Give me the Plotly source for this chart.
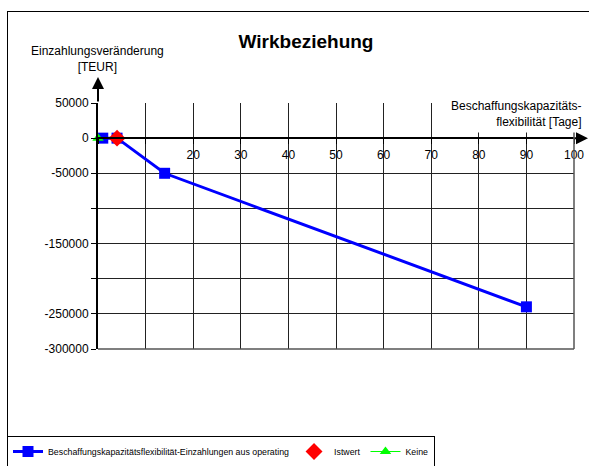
import plotly.graph_objects as go

# Data
series_name = "Beschaffungskapazitätsflexibilität-Einzahlungen aus operating"
flex_days = [1, 4, 14, 90]
einzahlung = [0, 0, -50000, -240000]
istwert_x = [4]
istwert_y = [0]
keine_x = [0]
keine_y = [0]

x_tickvals = [0, 10, 20, 30, 40, 50, 60, 70, 80, 90, 100]
x_ticktext = ["", "", "20", "30", "40", "50", "60", "70", "80", "90", "100"]
y_tickvals = [50000, 0, -50000, -100000, -150000, -200000, -250000, -300000]
y_ticktext = ["50000", "0", "-50000", "", "-150000", "", "-250000", "-300000"]

FONT = "Liberation Sans, Arial, sans-serif"

fig = go.Figure()
fig.add_trace(go.Scatter(
    x=flex_days, y=einzahlung, mode="lines+markers", name=series_name,
    line=dict(color="#0000ff", width=3),
    marker=dict(symbol="square", size=11, color="#0000ff"),
    cliponaxis=False))
fig.add_trace(go.Scatter(
    x=istwert_x, y=istwert_y, mode="markers", name="Istwert",
    marker=dict(symbol="diamond", size=13, color="#ff0000"),
    cliponaxis=False))
fig.add_trace(go.Scatter(
    x=keine_x, y=keine_y, mode="lines+markers", name="Keine",
    line=dict(color="#00ff00", width=1),
    marker=dict(symbol="triangle-up", size=10, color="#00ff00"),
    cliponaxis=False))

# Page body margin is removed (post_script), so figure px == page px.
# Plot area (px): 98..574 x 103..349
W, H = 589, 466
x0px, x1px, y0px, y1px = 98, 574, 103, 349
def px_x(p):
    return (p - x0px) / (x1px - x0px)
def px_y(p):
    return (y1px - p) / (y1px - y0px)

y_lo, y_hi = -300000, 50000
x_lo, x_hi = 0, 100
zero_pos = (0 - y_lo) / (y_hi - y_lo)

fig.update_layout(
    width=W, height=H,
    margin=dict(l=x0px, r=W - x1px, t=y0px, b=H - y1px, autoexpand=False),
    paper_bgcolor="white", plot_bgcolor="white",
    font=dict(family=FONT, size=12, color="black"),
    title=dict(text="<b>Wirkbeziehung</b>", x=306 / W, xanchor="center",
               y=1 - 41 / H, yanchor="middle", font=dict(size=19, family=FONT)),
    showlegend=True,
    legend=dict(orientation="h", x=px_x(7), y=px_y(436), xanchor="left", yanchor="top",
                bordercolor="black", borderwidth=1, bgcolor="white",
                font=dict(size=8.8, family=FONT), itemwidth=30),
    xaxis=dict(range=[x_lo, x_hi], tickvals=x_tickvals, ticktext=x_ticktext,
               showgrid=True, gridcolor="#222", gridwidth=1,
               showline=True, linecolor="black", linewidth=2,
               anchor="free", position=zero_pos,
               ticks="outside", ticklen=5, tickcolor="black",
               zeroline=False, tickfont=dict(size=12)),
    yaxis=dict(range=[y_lo, y_hi], tickvals=y_tickvals, ticktext=y_ticktext,
               showgrid=True, gridcolor="#222", gridwidth=1,
               showline=True, linecolor="black", linewidth=2,
               ticks="outside", ticklen=5, tickcolor="black",
               zeroline=False, tickfont=dict(size=12)),
)

# plot-area frame on right and bottom (grid edges)
fig.add_shape(type="line", xref="paper", yref="paper", x0=1, x1=1, y0=0, y1=1,
              line=dict(color="#555", width=1.5), layer="above")
fig.add_shape(type="line", xref="paper", yref="paper", x0=0, x1=1, y0=0, y1=0,
              line=dict(color="#555", width=1.5), layer="above")

# outer chart border (left and top)
fig.add_shape(type="line", xref="paper", yref="paper",
              x0=px_x(7.5), x1=px_x(7.5), y0=px_y(470), y1=px_y(11),
              line=dict(color="black", width=1))
fig.add_shape(type="line", xref="paper", yref="paper",
              x0=px_x(7), x1=px_x(600), y0=px_y(11.5), y1=px_y(11.5),
              line=dict(color="black", width=1))

# axis titles
fig.add_annotation(text="Einzahlungsveränderung<br>[TEUR]", xref="paper", yref="paper",
                   x=px_x(97), y=px_y(59), xanchor="center", yanchor="middle",
                   showarrow=False, align="center", font=dict(size=12))
fig.add_annotation(text="Beschaffungskapazitäts-<br>flexibilität [Tage]", xref="paper", yref="paper",
                   x=px_x(586), y=px_y(114), xanchor="right", yanchor="middle",
                   showarrow=False, align="right", bgcolor="white", borderpad=3,
                   font=dict(size=12))

# axis arrows
fig.add_annotation(x=0, y=px_y(77), xref="x", yref="paper", ax=0, ay=26,
                   showarrow=True, arrowhead=2, arrowsize=1.2, arrowwidth=2,
                   arrowcolor="black", text="")
fig.add_annotation(x=px_x(589), y=0, xref="paper", yref="y", ax=-16, ay=0,
                   showarrow=True, arrowhead=2, arrowsize=1.2, arrowwidth=2,
                   arrowcolor="black", text="")

fig.write_html(
    "out.html",
    config={"displayModeBar": False},
    post_script="document.body.style.margin='0';"
                "document.body.style.overflow='hidden';"
                "document.documentElement.style.overflow='hidden';",
)
